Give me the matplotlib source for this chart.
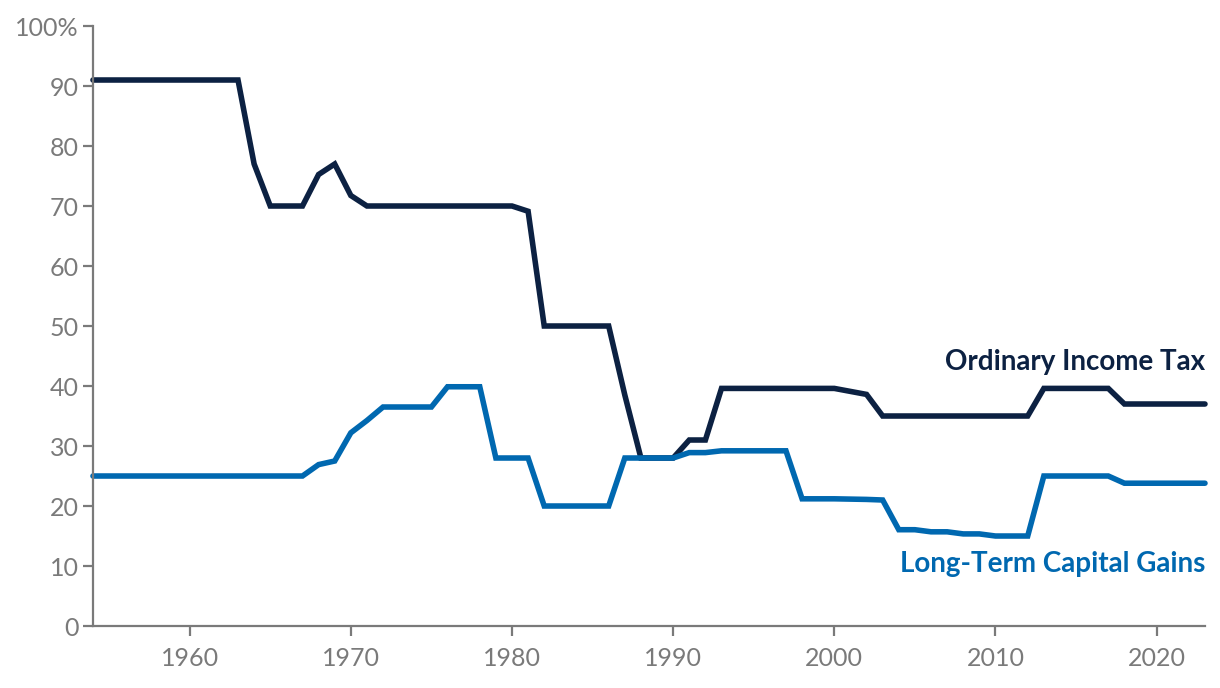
import matplotlib
matplotlib.use("Agg")
import matplotlib.pyplot as plt
import numpy as np

years = list(range(1954, 2024))

# top marginal ordinary income tax rate (%)
income_tax = (
    [91.0] * 10                      # 1954-1963
    + [77.0, 70.0, 70.0, 70.0]       # 1964-1967
    + [75.25, 77.0, 71.75]           # 1968-1970
    + [70.0] * 10                    # 1971-1980
    + [69.125]                       # 1981
    + [50.0] * 5                     # 1982-1986
    + [38.5]                         # 1987
    + [28.0] * 3                     # 1988-1990
    + [31.0] * 2                     # 1991-1992
    + [39.6] * 8                     # 1993-2000
    + [39.1, 38.6]                   # 2001-2002
    + [35.0] * 10                    # 2003-2012
    + [39.6] * 5                     # 2013-2017
    + [37.0] * 6                     # 2018-2023
)

# top long-term capital gains rate (%)
cap_gains = (
    [25.0] * 14                      # 1954-1967
    + [26.9, 27.5, 32.2, 34.25]      # 1968-1971
    + [36.5] * 4                     # 1972-1975
    + [39.875] * 3                   # 1976-1978
    + [28.0] * 3                     # 1979-1981
    + [20.0] * 5                     # 1982-1986
    + [28.0] * 4                     # 1987-1990
    + [28.9] * 2                     # 1991-1992
    + [29.2] * 5                     # 1993-1997
    + [21.2] * 3                     # 1998-2000
    + [21.15, 21.1, 21.0]            # 2001-2003
    + [16.05, 16.05, 15.7, 15.7]     # 2004-2007
    + [15.35, 15.35, 15.0, 15.0, 15.0]  # 2008-2012
    + [25.0] * 5                     # 2013-2017
    + [23.8] * 6                     # 2018-2023
)

y_ticks = [0, 10, 20, 30, 40, 50, 60, 70, 80, 90, 100]
y_labels = ["0", "10", "20", "30", "40", "50", "60", "70", "80", "90", "100%"]
x_ticks = [1960, 1970, 1980, 1990, 2000, 2010, 2020]

NAVY = "#0c2142"
BLUE = "#0068b0"
GRAY = "#7a7a7a"


def main():
    plt.rcParams["font.family"] = ["Lato", "DejaVu Sans"]

    fig = plt.figure(figsize=(12.2, 6.88), dpi=100)
    ax = fig.add_axes([0.0762, 0.0901, 0.9115, 0.8721])

    ax.plot(years, income_tax, color=NAVY, lw=4, solid_joinstyle="miter",
            solid_capstyle="round", clip_on=False)
    ax.plot(years, cap_gains, color=BLUE, lw=4, solid_joinstyle="miter",
            solid_capstyle="round", clip_on=False)

    ax.set_xlim(1954, 2023)
    ax.set_ylim(0, 100)
    ax.set_yticks(y_ticks)
    ax.set_yticklabels(y_labels)
    ax.set_xticks(x_ticks)

    for s in ["top", "right"]:
        ax.spines[s].set_visible(False)
    for s in ["left", "bottom"]:
        ax.spines[s].set_color(GRAY)
        ax.spines[s].set_linewidth(1.6)
    ax.tick_params(colors=GRAY, labelcolor=GRAY, labelsize=18, length=7,
                   width=1.6, direction="out")
    ax.tick_params(axis="x", pad=8)
    ax.tick_params(axis="y", pad=3)

    ax.text(2023, 44, "Ordinary Income Tax", color=NAVY, fontsize=20,
            fontweight="bold", ha="right", va="center")
    ax.text(2023, 10.3, "Long-Term Capital Gains", color=BLUE, fontsize=20,
            fontweight="bold", ha="right", va="center")

    fig.savefig("out.png", dpi=100)
    plt.close(fig)


if __name__ == "__main__":
    main()
